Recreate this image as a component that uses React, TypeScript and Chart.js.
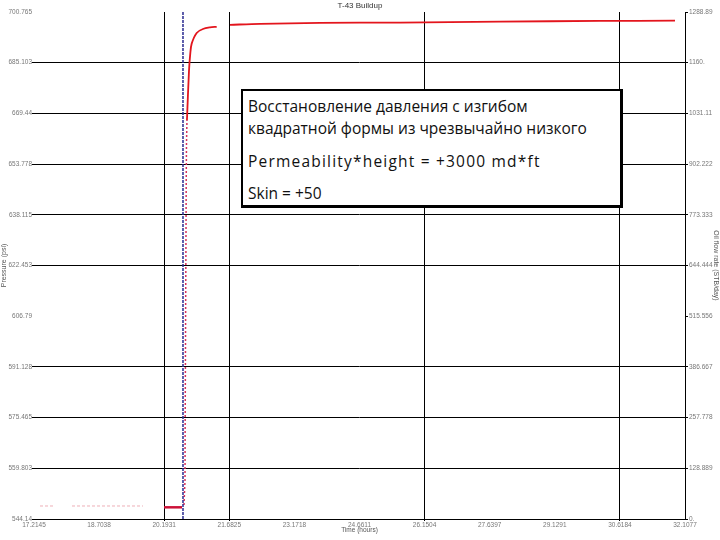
import React, { useEffect, useRef } from "react";
import { Chart, registerables } from "chart.js";
Chart.register(...registerables);

// ---- tick values & labels ----
const TIME_TICKS = [17.2145, 18.7038, 20.1931, 21.6825, 23.1718, 24.6611, 26.1504, 27.6397, 29.1291, 30.6184, 32.1077];
const TIME_TICK_LABELS = ["17.2145", "18.7038", "20.1931", "21.6825", "23.1718", "24.6611", "26.1504", "27.6397", "29.1291", "30.6184", "32.1077"];
const PRESSURE_TICKS = [544.14, 559.803, 575.465, 591.128, 606.79, 622.453, 638.115, 653.778, 669.44, 685.103, 700.765];
const PRESSURE_TICK_LABELS = ["544.14", "559.803", "575.465", "591.128", "606.79", "622.453", "638.115", "653.778", "669.44", "685.103", "700.765"];
const RATE_TICKS = [0, 128.889, 257.778, 386.667, 515.556, 644.444, 773.333, 902.222, 1031.11, 1160, 1288.89];
const RATE_TICK_LABELS = ["0.", "128.889", "257.778", "386.667", "515.556", "644.444", "773.333", "902.222", "1031.11", "1160.", "1288.89"];

// ---- series ----
const PRE_TIME = [17.352, 17.695, 17.89, 18.084, 19.708];
const PRE_PRESSURE = [548.16, 548.16, null, 548.16, 548.16];

const FLOW_TIME = [20.188, 20.6];
const FLOW_PRESSURE = [547.75, 547.75];

const SHUTIN_TIME = [20.623, 20.623];
const SHUTIN_RATE = [0, 1288.89];

const BU_EARLY_TIME = [20.646, 20.669, 20.672, 20.678, 20.684, 20.691, 20.697, 20.703, 20.714];
const BU_EARLY_PRESSURE = [548.47, 556.0, 572.0, 590.0, 610.0, 630.0, 648.9, 660.0, 667.4];

const BU_TIME = [20.714, 20.76, 20.79, 20.822, 20.936, 21.08, 21.241, 21.394, 21.55, 21.698, 22.385, 23.757, 25.588, 27.876, 30.163, 31.879];
const BU_PRESSURE = [667.4, 682.5, 688.0, 691.0, 694.3, 695.5, 696.0, 696.2, null, 696.8, 697.1, 697.4, 697.5, 697.8, 698.0, 698.1];

const TITLE = "T-43 Buildup";
const X_TITLE = "Time (hours)";
const Y_TITLE = "Pressure (psi)";
const Y1_TITLE = "Oil flow rate (STB/day)";
const NOTE_LINES = [
  "Восстановление давления с изгибом",
  "квадратной формы из чрезвычайно низкого",
];
const NOTE_KH = "Permeability*height = +3000 md*ft";
const NOTE_SKIN = "Skin = +50";

const X_GRID_SHOWN = [2, 3, 6, 9];
const Y_GRID_HIDDEN = [4, 10];

const pts = (xs: number[], ys: (number | null)[]) => xs.map((x, i) => ({ x, y: ys[i] }));

export default function App() {
  const ref = useRef<HTMLCanvasElement | null>(null);

  useEffect(() => {
    if (!ref.current) return;
    Chart.defaults.font.family = "'Liberation Sans', Arial, sans-serif";
    const tickFont = { size: 6.5 };
    const chart = new Chart(ref.current, {
      type: "line",
      data: {
        datasets: [
          {
            data: pts(PRE_TIME, PRE_PRESSURE) as any,
            borderColor: "#eeb0b8",
            borderWidth: 1,
            borderDash: [3, 2],
            pointRadius: 0,
            spanGaps: false,
            yAxisID: "y",
          },
          {
            data: pts(FLOW_TIME, FLOW_PRESSURE) as any,
            borderColor: "#cc1238",
            borderWidth: 2.5,
            pointRadius: 0,
            yAxisID: "y",
          },
          {
            data: pts(SHUTIN_TIME, SHUTIN_RATE) as any,
            borderColor: "#2a2a90",
            borderWidth: 1.5,
            borderDash: [3, 1],
            pointRadius: 0,
            yAxisID: "y1",
          },
          {
            data: pts(BU_EARLY_TIME, BU_EARLY_PRESSURE) as any,
            borderColor: "#d8305a",
            borderWidth: 1.5,
            borderDash: [2, 2],
            pointRadius: 0,
            yAxisID: "y",
          },
          {
            data: pts(BU_TIME, BU_PRESSURE) as any,
            borderColor: "#e3151d",
            borderWidth: 1.8,
            pointRadius: 0,
            spanGaps: false,
            tension: 0.3,
            yAxisID: "y",
          },
        ],
      },
      options: {
        animation: false,
        responsive: false,
        devicePixelRatio: 1,
        layout: { padding: { top: 0, bottom: 6, left: 0, right: 0 } },
        plugins: {
          legend: { display: false },
          tooltip: { enabled: false },
          title: {
            display: true,
            text: TITLE,
            color: "#333",
            font: { size: 8, weight: "normal" },
            padding: { top: 1.2, bottom: 1.2 },
          },
        },
        scales: {
          x: {
            type: "linear",
            min: TIME_TICKS[0],
            max: TIME_TICKS[TIME_TICKS.length - 1],
            afterBuildTicks: (s: any) => {
              s.ticks = TIME_TICKS.map((v) => ({ value: v }));
            },
            afterFit: (s: any) => {
              s.height = 15;
            },
            ticks: {
              autoSkip: false,
              maxRotation: 0,
              padding: 0,
              color: "#777",
              font: tickFont,
              callback: (_v: any, i: number) => TIME_TICK_LABELS[i],
            },
            grid: {
              color: (c: any) => (X_GRID_SHOWN.includes(c.index) ? "#000" : "rgba(0,0,0,0)"),
              lineWidth: 1,
              tickLength: 2,
            },
            border: { display: true, color: "#000", width: 1 },
            title: { display: true, text: X_TITLE, color: "#555", font: { size: 6.5 }, padding: 0 },
          },
          y: {
            type: "linear",
            position: "left",
            min: PRESSURE_TICKS[0],
            max: PRESSURE_TICKS[PRESSURE_TICKS.length - 1],
            afterBuildTicks: (s: any) => {
              s.ticks = PRESSURE_TICKS.map((v) => ({ value: v }));
            },
            afterFit: (s: any) => {
              s.width = 34;
            },
            ticks: {
              autoSkip: false,
              padding: 0,
              color: "#777",
              font: tickFont,
              callback: (_v: any, i: number) => PRESSURE_TICK_LABELS[i],
            },
            grid: {
              color: (c: any) => (Y_GRID_HIDDEN.includes(c.index) ? "rgba(0,0,0,0)" : "#000"),
              lineWidth: 1,
              tickLength: 2,
            },
            border: { display: false },
            title: { display: true, text: Y_TITLE, color: "#555", font: { size: 7 }, padding: 0 },
          },
          y1: {
            type: "linear",
            position: "right",
            min: RATE_TICKS[0],
            max: RATE_TICKS[RATE_TICKS.length - 1],
            afterBuildTicks: (s: any) => {
              s.ticks = RATE_TICKS.map((v) => ({ value: v }));
            },
            afterFit: (s: any) => {
              s.width = 35;
            },
            ticks: {
              autoSkip: false,
              padding: 1,
              color: "#777",
              font: tickFont,
              callback: (_v: any, i: number) => RATE_TICK_LABELS[i],
            },
            grid: { drawOnChartArea: false, color: "#000", tickLength: 3 },
            border: { display: true, color: "#000", width: 1 },
            title: { display: true, text: Y1_TITLE, color: "#555", font: { size: 7 }, padding: 0 },
          },
        },
      } as any,
    });
    return () => chart.destroy();
  }, []);

  const lineStyle: React.CSSProperties = {
    position: "absolute",
    left: 5,
    whiteSpace: "nowrap",
    lineHeight: "18px",
  };

  return (
    <div style={{ position: "fixed", left: 0, top: 0, width: 720, height: 540, background: "#fff" }}>
      <canvas ref={ref} width={720} height={540} style={{ display: "block", width: 720, height: 540 }} />
      <div
        style={{
          position: "absolute",
          left: 241,
          top: 89,
          width: 377,
          height: 114,
          background: "#fff",
          borderTop: "2px solid #000",
          borderLeft: "2px solid #000",
          borderRight: "3px solid #000",
          borderBottom: "3px solid #000",
          fontFamily: "'Open Sans', 'Noto Sans', sans-serif",
          fontSize: 15.5,
          color: "#111",
        }}
      >
        <div style={{ ...lineStyle, top: 6 }}>{NOTE_LINES[0]}</div>
        <div style={{ ...lineStyle, top: 28 }}>{NOTE_LINES[1]}</div>
        <div style={{ ...lineStyle, top: 61, letterSpacing: "1.2px" }}>{NOTE_KH}</div>
        <div style={{ ...lineStyle, top: 93 }}>{NOTE_SKIN}</div>
      </div>
    </div>
  );
}
